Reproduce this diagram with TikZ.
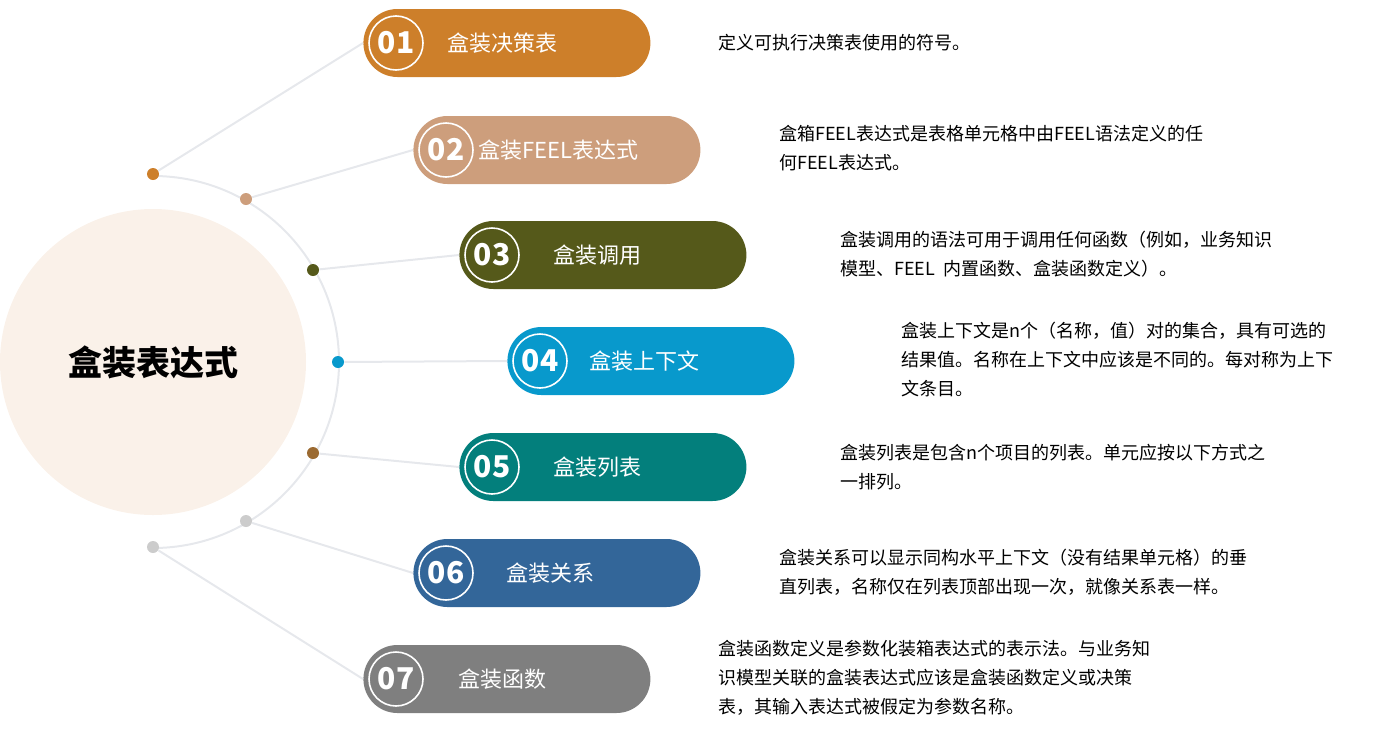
\documentclass[tikz,border=0pt]{standalone}
\usepackage{fontspec}
\setmainfont{Noto Sans CJK SC}
\usetikzlibrary{positioning}
\definecolor{cA}{HTML}{CD7F2A}
\definecolor{cB}{HTML}{CD9E7C}
\definecolor{cC}{HTML}{55591A}
\definecolor{cD}{HTML}{0899CC}
\definecolor{cE}{HTML}{037F7C}
\definecolor{cF}{HTML}{336699}
\definecolor{cG}{HTML}{7F7F7F}
\definecolor{dotE}{HTML}{9B6A31}
\definecolor{dotF}{HTML}{CCCCCC}
\definecolor{hub}{HTML}{FAF1E9}
\definecolor{wire}{HTML}{E6E8EC}
\tikzset{%
  % Specifications for style of nodes:
      pill/.style = {rectangle, rounded corners=17pt, minimum width=143.5pt,
                     minimum height=34pt, inner sep=0pt},
    number/.style = {circle, draw=white, line width=0.8pt, minimum size=27pt,
                     inner sep=0pt, text=white, font=\bfseries\fontsize{15}{15}\selectfont},
  itemlabel/.style = {text=white, font=\fontsize{11}{11}\selectfont, anchor=west, inner sep=0pt},
      desc/.style = {anchor=north west, align=left, inner sep=0pt,
                     font=\fontsize{9}{14.5}\selectfont},
    dotmark/.style = {circle, minimum size=6pt, inner sep=0pt},
}
\begin{document}
\begin{tikzpicture}[x=0.5pt, y=-0.5pt]
  \useasboundingbox (0,0) rectangle (1400,734);

  \node(hub) [circle, fill=hub, minimum size=153pt, inner sep=0pt,
              font=\bfseries\fontsize{17}{17}\selectfont] at (153,362) {盒装表达式};
  \draw[wire, line width=1pt] (153,176) arc[start angle=-90, end angle=90, radius=186];

  % items: number / x of pill / y / colour / dot colour / dot position / label offset / text
  \foreach \n/\px/\py/\col/\dcol/\dx/\dy/\lx/\txt in {
      01/363/43/cA/cA/153/174/84/盒装决策表,
      02/413/150/cB/cB/246/199/65/盒装FEEL表达式,
      03/459/255/cC/cC/313/270/94/盒装调用,
      04/507/361/cD/cD/338/362/82/盒装上下文,
      05/459/467/cE/dotE/313/453/94/盒装列表,
      06/413/573/cF/dotF/246/521/93/盒装关系,
      07/363/679/cG/dotF/153/547/95/盒装函数} {
    \node(pill\n) [pill, fill=\col, anchor=west] at (\px,\py) {};
    \node(num\n)  [number] at ([xshift=16.5pt]pill\n.west) {\n};
    \node(lab\n)  [itemlabel] at ([xshift=\lx*0.5pt]pill\n.west) {\txt};
    \node(dot\n)  [dotmark, fill=\dcol] at (\dx,\dy) {};
    \draw[wire, line width=1pt] (dot\n) -- (pill\n.west);
  }

  \node(desc01) [desc] at (718,34)  {定义可执行决策表使用的符号。};
  \node(desc02) [desc] at (779,125) {盒箱FEEL表达式是表格单元格中由FEEL语法定义的任\\何FEEL表达式。};
  \node(desc03) [desc] at (840,231) {盒装调用的语法可用于调用任何函数（例如，业务知识\\模型、FEEL\ \ 内置函数、盒装函数定义）。};
  \node(desc04) [desc] at (901,322) {盒装上下文是n个（名称，值）对的集合，具有可选的\\结果值。名称在上下文中应该是不同的。每对称为上下\\文条目。};
  \node(desc05) [desc] at (840,444) {盒装列表是包含n个项目的列表。单元应按以下方式之\\一排列。};
  \node(desc06) [desc] at (779,549) {盒装关系可以显示同构水平上下文（没有结果单元格）的垂\\直列表，名称仅在列表顶部出现一次，就像关系表一样。};
  \node(desc07) [desc] at (718,640) {盒装函数定义是参数化装箱表达式的表示法。与业务知\\识模型关联的盒装表达式应该是盒装函数定义或决策\\表，其输入表达式被假定为参数名称。};
\end{tikzpicture}
\end{document}
